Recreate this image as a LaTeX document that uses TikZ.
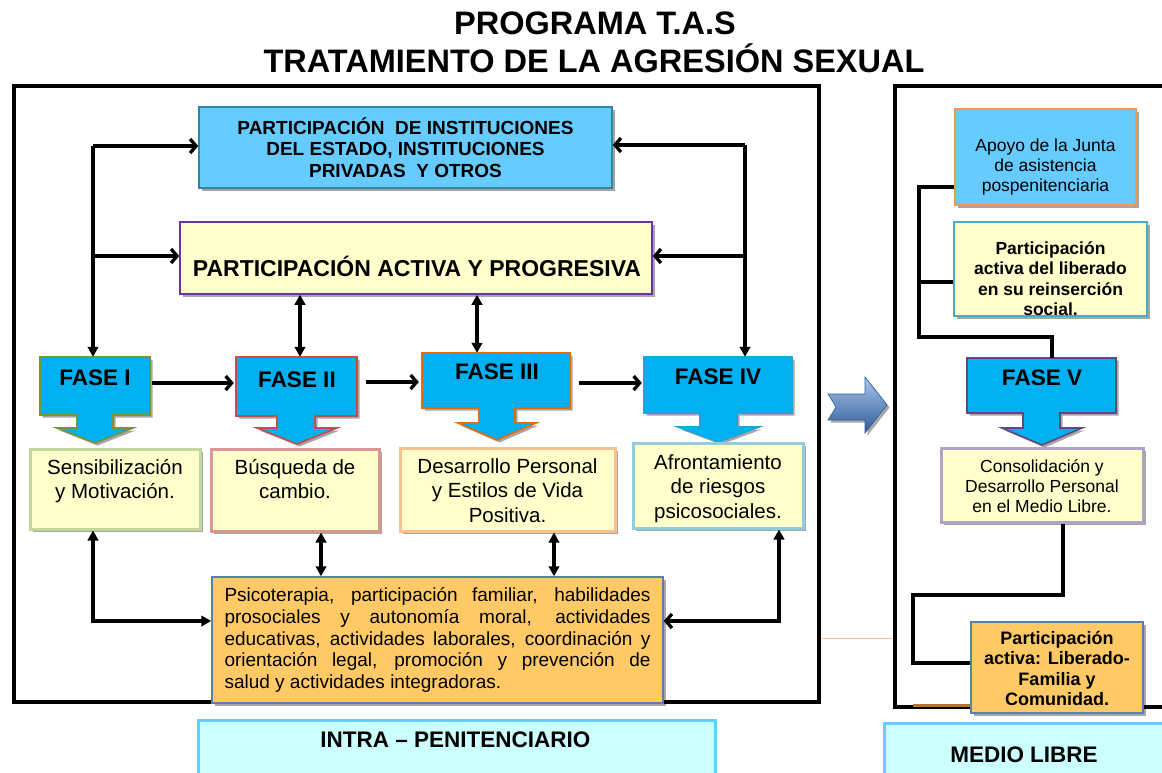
\documentclass[tikz,border=0pt]{standalone}
\usepackage{fontspec}
\setmainfont{Liberation Sans}
\usetikzlibrary{arrows.meta,shadows}
\definecolor{topblue}{HTML}{66CCFF}
\definecolor{topbord}{HTML}{31859C}
\definecolor{lyellow}{HTML}{FFFFCC}
\definecolor{actbord}{HTML}{7030A0}
\definecolor{fasefill}{HTML}{00B0F0}
\definecolor{bone}{HTML}{77933C}
\definecolor{btwo}{HTML}{C0504D}
\definecolor{bthree}{HTML}{E46C0A}
\definecolor{bfour}{HTML}{1AA7DB}
\definecolor{bfive}{HTML}{604A7B}
\definecolor{done}{HTML}{C3D69B}
\definecolor{dtwo}{HTML}{D99694}
\definecolor{dthree}{HTML}{FAC090}
\definecolor{dfour}{HTML}{93CDDD}
\definecolor{dfive}{HTML}{B3A2C7}
\definecolor{orangef}{HTML}{FFC965}
\definecolor{orangeb}{HTML}{5A7FA8}
\definecolor{apoyob}{HTML}{F79646}
\definecolor{libb}{HTML}{4BACC6}
\definecolor{cyanf}{HTML}{CCFFFF}
\definecolor{cyanb}{HTML}{66CCFF}
\definecolor{arrowtop}{HTML}{A9C6EC}
\definecolor{arrowbot}{HTML}{2E5C99}
\tikzset{
  myTri/.tip={Triangle[length=10pt,width=10.5pt]},
  myBarb/.tip={Straight Barb[length=6pt,width=14pt]},
}
\begin{document}
\begin{tikzpicture}[x=1pt,y=-1pt,
  shad/.style={drop shadow={shadow xshift=2.5pt,shadow yshift=-2.5pt,opacity=.35,fill=black}},
  box/.style={draw,rectangle,inner sep=0pt,shad},
  txt/.style={inner sep=0pt,align=center},
  conn/.style={line width=3.3pt,line join=miter},
  fase/.style={fill=fasefill,line width=1.6pt,line join=miter,shad},
  fasetxt/.style={inner sep=0pt,font=\bfseries\fontsize{22.5}{26}\selectfont},
  anchorbox/.style={inner sep=0pt,rectangle},
  descbox/.style={box,fill=lyellow,line width=3pt},
  desctxt/.style={txt,anchor=north,font=\fontsize{20.5}{24.5}\selectfont},
  rtxt/.style={txt,font=\fontsize{17.5}{20.3}\selectfont},
  rbtxt/.style={txt,font=\bfseries\fontsize{17.5}{20.5}\selectfont},
  labbox/.style={draw=cyanb,fill=cyanf,line width=3pt,rectangle,inner sep=0pt},
  labtxt/.style={inner sep=0pt,font=\bfseries\fontsize{22.5}{26}\selectfont},
]
\useasboundingbox[fill=white] (0,0) rectangle (1162,772);

% titles
\node[anchor=base,inner sep=0pt,font=\bfseries\fontsize{32.5}{36}\selectfont] (title1) at (595,34) {PROGRAMA T.A.S};
\node[anchor=base,inner sep=0pt,font=\bfseries\fontsize{32.5}{36}\selectfont] (title2) at (594,72) {TRATAMIENTO DE LA AGRESIÓN SEXUAL};

% frames
\draw[line width=4pt] (14,86) rectangle (819,702);
\draw[line width=4pt] (1166,86) -- (895,86) -- (895,707) -- (1166,707);
\draw[dthree,line width=1pt] (822,638) -- (893,638);
\draw[color={rgb,255:red,176;green,120;blue,40},line width=2.5pt] (913,705.5) -- (971,705.5);

% big arrow between frames
\path[top color=arrowtop,bottom color=arrowbot,draw=arrowbot,line width=0.6pt,shad]
  (828,394) -- (865,394) -- (865,377) -- (887,405) -- (865,433) -- (865,420) -- (828,420) -- (836,407) -- cycle;

% top boxes
\node[box,fill=topblue,draw=topbord,line width=1.5pt,minimum width=413pt,minimum height=81pt,
      align=center,font=\bfseries\fontsize{19}{21.5}\selectfont] (top) at (405.5,147.5)
  {PARTICIPACIÓN \ DE INSTITUCIONES\\DEL ESTADO, INSTITUCIONES\\PRIVADAS \ Y OTROS};
\node[box,fill=lyellow,draw=actbord,line width=1.5pt,minimum width=472pt,minimum height=72pt] (act) at (416,258) {};
\node[inner sep=0pt,font=\bfseries\fontsize{23}{26}\selectfont] (acttxt) at (417,266) {PARTICIPACIÓN ACTIVA Y PROGRESIVA};

% FASE callouts
\path[fase,draw=bone] (40,357) -- (150,357) -- (150,415) -- (113,415) -- (113,428) -- (133,428) -- (95,443) -- (57,428) -- (77,428) -- (77,415) -- (40,415) -- cycle;
\path[fase,draw=btwo] (236,357) -- (357,357) -- (357,416) -- (315,416) -- (315,428) -- (337,428) -- (297,444) -- (257,428) -- (277,428) -- (277,416) -- (236,416) -- cycle;
\path[fase,draw=bthree] (422,353) -- (570,353) -- (570,408) -- (515,408) -- (515,423) -- (536,423) -- (497,440) -- (458,423) -- (479,423) -- (479,408) -- (422,408) -- cycle;
\path[fase,draw=bfour] (644,357) -- (792,357) -- (792,413) -- (737,413) -- (737,427) -- (759,427) -- (718.5,442) -- (678,427) -- (700,427) -- (700,413) -- (644,413) -- cycle;
\path[fase,draw=bfive] (967,358) -- (1116,358) -- (1116,413) -- (1060,413) -- (1060,428) -- (1082,428) -- (1042,445) -- (1002,428) -- (1023,428) -- (1023,413) -- (967,413) -- cycle;

\node[anchorbox,minimum width=110pt,minimum height=58pt] (f1) at (95,386) {};
\node[anchorbox,minimum width=121pt,minimum height=59pt] (f2) at (296.5,386.5) {};
\node[anchorbox,minimum width=148pt,minimum height=55pt] (f3) at (496,380.5) {};
\node[anchorbox,minimum width=148pt,minimum height=56pt] (f4) at (718,385) {};
\node[anchorbox,minimum width=149pt,minimum height=55pt] (f5) at (1041.5,385.5) {};

\node[fasetxt] (f1t) at (95,378) {FASE I};
\node[fasetxt] (f2t) at (297,380) {FASE II};
\node[fasetxt] (f3t) at (497,372) {FASE III};
\node[fasetxt] (f4t) at (718,376.5) {FASE IV};
\node[fasetxt] (f5t) at (1042,378) {FASE V};

% description boxes
\node[descbox,draw=done,minimum width=170pt,minimum height=80pt] (d1) at (115,489) {};
\node[descbox,draw=dtwo,minimum width=168pt,minimum height=82pt] (d2) at (295,490) {};
\node[descbox,draw=dthree,minimum width=215pt,minimum height=83pt] (d3) at (507.5,489.5) {};
\node[descbox,draw=dfour,minimum width=170pt,minimum height=85pt] (d4) at (718,485.5) {};
\node[desctxt] (d1t) at (115,459) {Sensibilización\\y Motivación.};
\node[desctxt] (d2t) at (295,459) {Búsqueda de\\cambio.};
\node[desctxt] (d3t) at (507.5,458) {Desarrollo Personal\\y Estilos de Vida\\Positiva.};
\node[desctxt] (d4t) at (718,454) {Afrontamiento\\de riesgos\\psicosociales.};

% bottom orange box
\node[box,fill=orangef,draw=orangeb,line width=1.5pt,minimum width=451pt,minimum height=126pt,
      text width=426pt,align=justify,font=\fontsize{19}{21.7}\selectfont] (psi) at (437.5,640)
  {Psicoterapia, participación familiar, habilidades\linebreak
   prosociales y autonomía moral, actividades\linebreak
   educativas, actividades laborales, coordinación y\linebreak
   orientación legal, promoción y prevención de\linebreak
   salud y actividades integradoras.};

% right column boxes
\node[box,fill=topblue,draw=apoyob,line width=1.5pt,minimum width=181pt,minimum height=96pt] (apoyo) at (1045.5,157) {};
\node[rtxt] (apoyot) at (1045.5,167) {Apoyo de la Junta\\de asistencia\\pospenitenciaria};
\node[box,fill=lyellow,draw=libb,line width=1.5pt,minimum width=193pt,minimum height=94pt] (partlib) at (1050.5,269) {};
\node[rbtxt] (partlibt) at (1050.5,278.5) {Participación\\activa del liberado\\en su reinserción\\social.};
\node[descbox,draw=dfive,minimum width=202pt,minimum height=74pt] (consol) at (1042,485) {};
\node[rtxt] (consolt) at (1042,486) {Consolidación y\\Desarrollo Personal\\en el Medio Libre.};
\node[box,fill=orangef,draw=orangeb,line width=1.5pt,minimum width=172pt,minimum height=91pt] (partfam) at (1057,667.5) {};
\node[rbtxt,font=\bfseries\fontsize{18}{20.5}\selectfont] (partfamt) at (1057,668.5) {Participación\\activa: Liberado-\\Familia y\\Comunidad.};

% bottom labels
\node[labbox,minimum width=517pt,minimum height=80pt] (intra) at (456.5,760) {};
\node[labtxt] (intrat) at (455.5,740) {INTRA – PENITENCIARIO};
\node[labbox,minimum width=296pt,minimum height=77pt] (medio) at (1032,761.5) {};
\node[labtxt] (mediot) at (1024,755) {MEDIO LIBRE};

% connectors: top buses
\coordinate (jl) at (93,146);
\coordinate (jr) at (745,145);
\draw[conn,-myTri] (jl) -- (jl |- f1.north);
\draw[conn,-myBarb] (jl) -- (top.west |- jl);
\draw[conn,-myBarb] (jl |- 0,256) -- (act.west |- 0,256);
\draw[conn,-myTri] (jr) -- (jr |- f4.north);
\draw[conn,-myBarb] (jr) -- (top.east |- jr);
\draw[conn,-myBarb] (jr |- 0,256) -- (act.east |- 0,256);

% act to phases
\draw[conn,myTri-myTri] (act.south -| 300,0) -- (f2.north -| 300,0);
\draw[conn,myTri-myTri] (act.south -| 477,0) -- (f3.north -| 477,0);

% phase sequence
\draw[conn,-myBarb,shorten <=2pt,shorten >=2pt] (f1.east |- 0,383) -- (f2.west |- 0,383);
\draw[conn,-myBarb,shorten <=9pt,shorten >=3pt] (f2.east |- 0,382) -- (f3.west |- 0,382);
\draw[conn,-myBarb,shorten <=9pt,shorten >=2pt] (f3.east |- 0,383) -- (f4.west |- 0,383);

% descriptions to bottom box
\draw[conn,myTri-myTri] (d1.south -| 93,0) |- (psi.west |- 0,621);
\draw[conn,myTri-myTri] (d2.south -| 321,0) -- (psi.north -| 321,0);
\draw[conn,myTri-myTri] (d3.south -| 554,0) -- (psi.north -| 554,0);
\draw[conn,myTri-myBarb] (d4.south -| 779,0) |- (psi.east |- 0,621);

% right column connectors
\draw[conn] (apoyo.west |- 0,187) -| (919,337) -| (f5.north -| 1052,0);
\draw[conn] (partlib.west |- 0,282) -- (919,282);
\draw[conn] (consol.south -| 1063,0) |- (913,595) |- (partfam.west |- 0,663);
\end{tikzpicture}
\end{document}
